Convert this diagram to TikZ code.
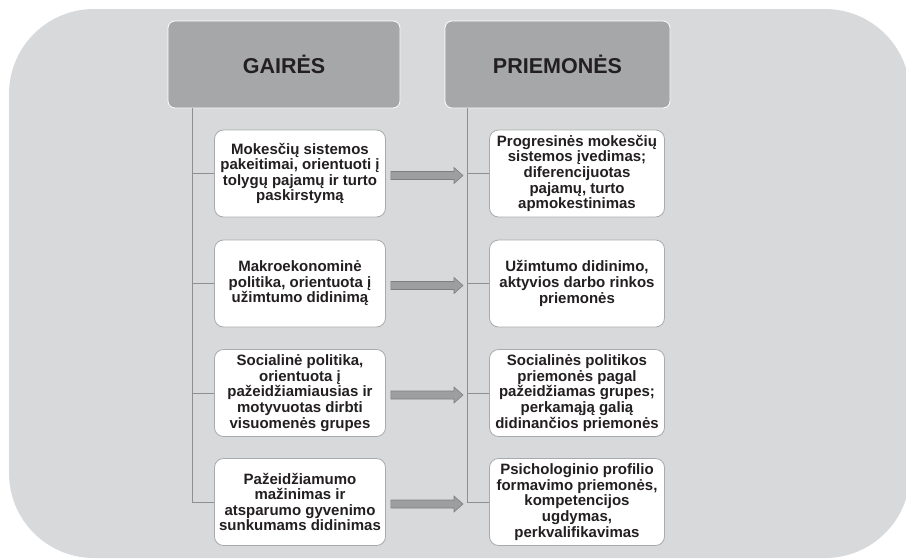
\documentclass[tikz,border=0pt]{standalone}
\usepackage{fontspec}
\setmainfont{Liberation Sans}
\usetikzlibrary{calc}
\definecolor{bggray}{HTML}{D8D9DB}
\definecolor{headgray}{HTML}{A6A7A9}
\definecolor{boxline}{HTML}{A9AAAC}
\definecolor{linegray}{HTML}{8E8F91}
\definecolor{arrowfill}{HTML}{9D9EA0}
\definecolor{arrowedge}{HTML}{7E7F81}
\definecolor{inkcol}{HTML}{231F20}
\tikzset{
  head/.style={draw=white, line width=0.8pt, fill=headgray, rounded corners=7pt,
    minimum height=87pt, text=inkcol, font=\fontsize{21.5}{24}\selectfont\bfseries},
  box/.style={draw=boxline, line width=0.8pt, fill=white, rounded corners=9pt,
    minimum height=87pt, inner sep=2pt, align=center, text=inkcol,
    font=\fontsize{15}{15.6}\selectfont\bfseries},
  link/.style={draw=linegray, line width=0.9pt},
  blockarr/.style={draw=arrowedge, fill=arrowfill, line width=0.6pt}
}
\begin{document}
\begin{tikzpicture}[x=1pt,y=-1pt]
  \useasboundingbox (0,0) rectangle (906,558);
  \fill[bggray, rounded corners=85pt] (9,9) rectangle (910,558);

  % column heads
  \node[head, minimum width=232pt] (hg) at (284,64.5) {GAIRĖS};
  \node[head, minimum width=225pt] (hp) at (557.5,64.5) {PRIEMONĖS};

  % gairės
  \node[box, minimum width=171pt] (g1) at (300,173.5) {Mokesčių sistemos\\pakeitimai, orientuoti į\\tolygų pajamų ir turto\\paskirstymą};
  \node[box, minimum width=171pt] (g2) at (300,283.5) {Makroekonominė\\politika, orientuota į\\užimtumo didinimą};
  \node[box, minimum width=171pt] (g3) at (300,393) {Socialinė politika,\\orientuota į\\pažeidžiamiausias ir\\motyvuotas dirbti\\visuomenės grupes};
  \node[box, minimum width=171pt] (g4) at (300,502) {Pažeidžiamumo\\mažinimas ir\\atsparumo gyvenimo\\sunkumams didinimas};

  % priemonės
  \node[box, minimum width=175pt] (p1) at (577,173.5) {Progresinės mokesčių\\sistemos įvedimas;\\diferencijuotas\\pajamų, turto\\apmokestinimas};
  \node[box, minimum width=175pt] (p2) at (577,283.5) {Užimtumo didinimo,\\aktyvios darbo rinkos\\priemonės};
  \node[box, minimum width=175pt] (p3) at (577,393) {Socialinės politikos\\priemonės pagal\\pažeidžiamas grupes;\\perkamąją galią\\didinančios priemonės};
  \node[box, minimum width=175pt] (p4) at (577,502) {Psichologinio profilio\\formavimo priemonės,\\kompetencijos\\ugdymas,\\perkvalifikavimas};

  % spines
  \coordinate (gline) at (192,108);
  \coordinate (pline) at (467,108);
  \draw[link] (gline) -- (gline |- g4);
  \draw[link] (pline) -- (pline |- p4);

  \foreach \i in {1,...,4}{
    \draw[link] (gline |- g\i) -- (g\i.west);
    \draw[link] (pline |- p\i) -- (p\i.west);
    \coordinate (s\i) at ($(g\i.east)+(5,2)$);
    \coordinate (e\i) at ($(pline |- g\i)+(-4,2)$);
    \draw[blockarr] ($(s\i)+(0,-4)$) -- ($(e\i)+(-9,-4)$) -- ($(e\i)+(-9,-8)$) -- (e\i)
      -- ($(e\i)+(-9,8)$) -- ($(e\i)+(-9,4)$) -- ($(s\i)+(0,4)$) -- cycle;
  }
\end{tikzpicture}
\end{document}
